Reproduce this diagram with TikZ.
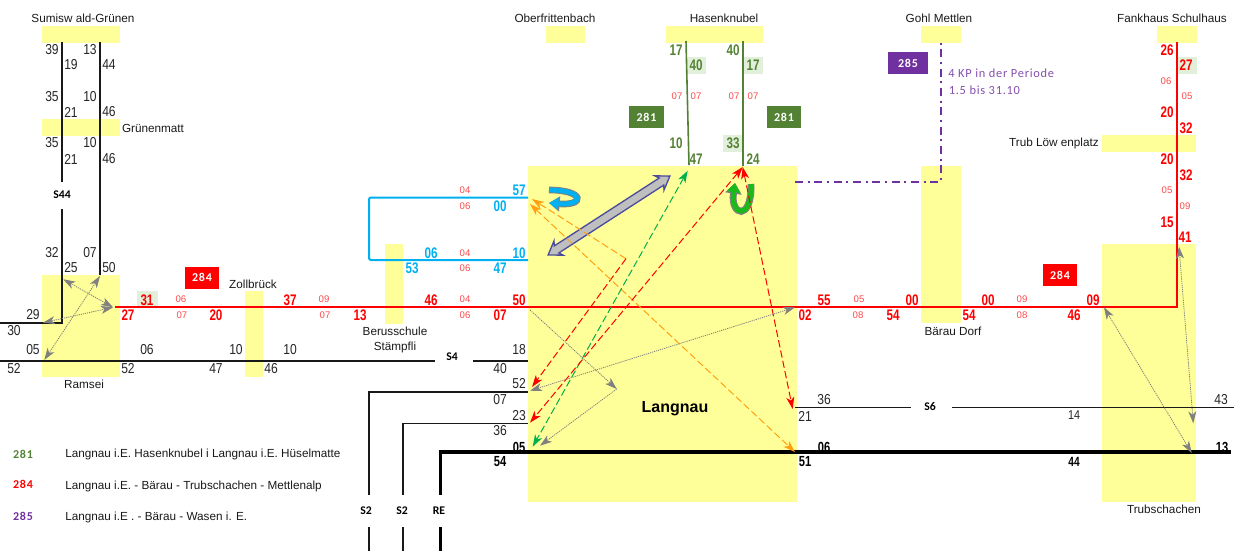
\documentclass[tikz,border=0pt]{standalone}
\usepackage{fontspec}
\usetikzlibrary{arrows.meta}
\setmainfont{Liberation Sans}
\newfontfamily\nar[FakeStretch=.84]{Liberation Sans}
\newfontfamily\narb[FakeStretch=.76]{Liberation Sans}
\newfontfamily\carl{Carlito}
\newfontfamily\carls[LetterSpace=6]{Carlito}
\definecolor{stopy}{HTML}{FFFF99}
\definecolor{hl}{HTML}{E2EFDA}
\definecolor{gr}{HTML}{548235}
\definecolor{redsm}{HTML}{FF4848}
\definecolor{blu}{HTML}{00B0F0}
\definecolor{pur}{HTML}{7030A0}
\definecolor{org}{HTML}{FFA010}
\definecolor{dgr}{HTML}{00B050}
\definecolor{gy}{HTML}{808080}
\tikzset{
 stopbox/.style={fill=stopy},
 hlbox/.style={fill=hl},
 txt/.style={inner sep=0pt,font=\fontsize{8.8}{10}\selectfont,text=black!90},
 blk/.style={inner sep=0pt,font=\nar\fontsize{10.8}{12}\selectfont,text=black!85},
 blks/.style={inner sep=0pt,font=\nar\fontsize{9.6}{12}\selectfont,text=black!85},
 blb/.style={inner sep=0pt,font=\narb\bfseries\fontsize{11}{12}\selectfont,text=black},
 blbs/.style={inner sep=0pt,font=\narb\bfseries\fontsize{10}{12}\selectfont,text=black},
 rb/.style={inner sep=0pt,font=\narb\bfseries\fontsize{11.5}{12}\selectfont,text=red},
 bb/.style={inner sep=0pt,font=\narb\bfseries\fontsize{11.5}{12}\selectfont,text=blu},
 gb/.style={inner sep=0pt,font=\narb\bfseries\fontsize{11.5}{12}\selectfont,text=gr},
 sm/.style={inner sep=0pt,font=\fontsize{7.2}{8}\selectfont,text=redsm},
 ln/.style={inner sep=0pt,font=\carl\bfseries\fontsize{8.8}{9}\selectfont,text=black},
 tag/.style={inner sep=0pt,minimum height=16.5pt,font=\carls\bfseries\fontsize{9}{10}\selectfont,text=white},
 leg/.style={inner sep=0pt,anchor=west,font=\fontsize{8.8}{10}\selectfont,text=black!90},
 legn/.style={inner sep=0pt,font=\carls\bfseries\fontsize{9}{10}\selectfont},
 pt/.style={inner sep=0pt,anchor=west,font=\carls\fontsize{9.3}{10}\selectfont,text=pur!85},
 blackln/.style={draw=black!90,line width=1.2pt},
 thick2/.style={draw=black,line width=2.6pt},
 redln/.style={draw=red,line width=1.5pt},
 bluln/.style={draw=blu,line width=1.5pt,rounded corners=1.5pt},
 grln/.style={draw=gr,line width=1.2pt},
 purln/.style={draw=pur,line width=1.4pt,dash pattern=on 6pt off 3.5pt on 1.5pt off 3.5pt},
 tipd/.style={{Stealth[length=9pt,width=6pt,inset=2.5pt]}-{Stealth[length=9pt,width=6pt,inset=2.5pt]}},
 tipe/.style={-{Stealth[length=9pt,width=6pt,inset=2.5pt]}},
 dsh/.style={line width=.75pt,dash pattern=on 5.5pt off 2.4pt},
 dot/.style={line width=.6pt,draw=gy,dash pattern=on .9pt off .7pt},
}
\begin{document}
\begin{tikzpicture}[x=.75pt,y=-.75pt]
\useasboundingbox (0,0) rectangle (1243,551);
% stops
\fill[stopbox] (42,26) rectangle (120,43);
\fill[stopbox] (42,119) rectangle (120,136);
\fill[stopbox] (42,275) rectangle (120,377);
\fill[stopbox] (245,291) rectangle (263,377);
\fill[stopbox] (385,244) rectangle (403,324);
\fill[stopbox] (528,166) rectangle (797,502);
\fill[stopbox] (546,26) rectangle (585,43);
\fill[stopbox] (666,26) rectangle (763,43);
\fill[stopbox] (921,26) rectangle (961,43);
\fill[stopbox] (921,166) rectangle (961,323);
\fill[stopbox] (1157,26) rectangle (1197,43);
\fill[stopbox] (1102,135) rectangle (1196,152);
\fill[stopbox] (1102,244) rectangle (1196,502);
\fill[hlbox] (137,291) rectangle (158,307);
\fill[hlbox] (686,57) rectangle (706,74);
\fill[hlbox] (744,57) rectangle (763,74);
\fill[hlbox] (723,135) rectangle (743,152);
\fill[hlbox] (1178,57) rectangle (1197,74);
% labels that lines interrupt
\node[ln] (s44) at (62,195) {S44};
\node[ln] (s4) at (452,357) {S4};
\node[ln] (s6) at (930,407) {S6};
\node[ln] (s2a) at (366,511) {S2};
\node[ln] (s2b) at (402,511) {S2};
\node[ln] (re) at (439,511) {RE};
% coordinates
\coordinate (a1) at (62,42); \coordinate (a2) at (62,182);
\coordinate (a3) at (62,209); \coordinate (a4) at (62,323); \coordinate (a5) at (0,323);
\coordinate (b1) at (100,42); \coordinate (b2) at (100,275);
\coordinate (c1) at (0,361); \coordinate (c2) at (435,361); \coordinate (c3) at (473,361); \coordinate (c4) at (528,361);
\coordinate (d1) at (528,392); \coordinate (d2) at (369,392); \coordinate (d3) at (369,495); \coordinate (d4) at (369,527); \coordinate (d5) at (369,551);
\coordinate (e1) at (528,423.5); \coordinate (e2) at (402.7,423.5); \coordinate (e3) at (402.7,495); \coordinate (e4) at (402.7,527); \coordinate (e5) at (402.7,551);
\coordinate (f1) at (1231,452); \coordinate (f2) at (440.7,452); \coordinate (f3) at (440.7,495); \coordinate (f4) at (440.7,527); \coordinate (f5) at (440.7,551);
\coordinate (g1) at (795,407.5); \coordinate (g2) at (911,407.5); \coordinate (g3) at (952,407.5); \coordinate (g4) at (1234,407.5);
\coordinate (h1) at (115,307); \coordinate (h2) at (1177,307); \coordinate (h3) at (1177,42);
\coordinate (i1) at (528,197.5); \coordinate (i2) at (369,197.5); \coordinate (i3) at (369,260); \coordinate (i4) at (528,260);
\coordinate (j1) at (795,182); \coordinate (j2) at (941,182); \coordinate (j3) at (941,43);
\coordinate (k1) at (686,41); \coordinate (k2) at (689,165); \coordinate (k3) at (743,41); \coordinate (k4) at (743,166);
% lines
\draw[blackln] (a1) -- (a2);
\draw[blackln] (a3) -- (a4) -- (a5);
\draw[blackln] (b1) -- (b2);
\draw[blackln] (c1) -- (c2);
\draw[blackln] (c3) -- (c4);
\draw[blackln] (d1) -- (d2) -- (d3);
\draw[blackln] (d4) -- (d5);
\draw[blackln] (e1) -- (e2) -- (e3);
\draw[blackln] (e4) -- (e5);
\draw[thick2] (f1) -- (f2) -- (f3);
\draw[thick2] (f4) -- (f5);
\draw[blackln] (g1) -- (g2);
\draw[blackln] (g3) -- (g4);
\draw[redln] (h1) -- (h2) -- (h3);
\draw[bluln] (i1) -- (i2) -- (i3) -- (i4);
\draw[purln] (j1) -- (j2) -- (j3);
\draw[grln] (k1) -- (k2);
\draw[grln] (k3) -- (k4);
% block arrows
\begin{scope}[shift={(609,215.5)},rotate=32.9]
\draw[draw=blue!45!black!70!white,fill=black!25,line width=1pt,line join=miter]
 (72.5,0) -- (60,8.5) -- (62.5,4.2) -- (-62.5,4.2) -- (-60,8.5) -- (-72.5,0) -- (-60,-8.5) -- (-62.5,-4.2) -- (62.5,-4.2) -- (60,-8.5) -- cycle;
\end{scope}
\coordinate (ua) at (549,190); \coordinate (ub) at (549,203);
\draw[draw=gy,line width=5pt,-{Triangle[length=8pt,width=11pt]}] (ua) .. controls (585,190) and (585,206) .. (ub);
\draw[draw=blu,line width=3.6pt,-{Triangle[length=7pt,width=9pt]}] (ua) .. controls (585,190) and (585,206) .. (ub);
\coordinate (va) at (751,184); \coordinate (vb) at (735,183);
\draw[draw=gy,line width=5.2pt,-{Triangle[length=8pt,width=12pt]}] (va) .. controls (752,222) and (730,216) .. (vb);
\draw[draw=green!70!black!90,line width=3.6pt,-{Triangle[length=7pt,width=10pt]}] (va) .. controls (752,222) and (730,216) .. (vb);
% transfer arrows
\coordinate (m1) at (626,258.7); \coordinate (m2) at (532,199); \coordinate (m3) at (532,387);
\coordinate (m4) at (530,204); \coordinate (m5) at (795,452);
\coordinate (m6) at (687.7,170.7); \coordinate (m7) at (532.7,446.7);
\coordinate (m8) at (742.7,167); \coordinate (m9) at (530,422.7); \coordinate (m10) at (792.7,409);
\coordinate (m11) at (530,310); \coordinate (m12) at (616.7,389); \coordinate (m13) at (540,445.7);
\coordinate (m14) at (530,390.7); \coordinate (m15) at (795,307.3);
\draw[dsh,draw=org,tipe] (m1) -- (m2);
\draw[dsh,draw=red,tipe] (m1) -- (m3);
\draw[dsh,draw=org,tipd] (m4) -- (m5);
\draw[dsh,draw=dgr,tipd] (m6) -- (m7);
\draw[dsh,draw=red,tipd] (m8) -- (m9);
\draw[dsh,draw=red,tipd] (m8) -- (m10);
\draw[dot,tipe] (m11) -- (m12);
\draw[dot,tipe] (m12) -- (m13);
\draw[dot,tipd] (m14) -- (m15);
\coordinate (n1) at (63.3,279.3); \coordinate (n2) at (113,307.3); \coordinate (n3) at (43,322.7);
\coordinate (n4) at (100,276); \coordinate (n5) at (44.3,360);
\draw[dot,tipd] (n1) -- (n2);
\draw[dot,tipd] (n2) -- (n3);
\draw[dot,tipd] (n4) -- (n5);
\coordinate (o1) at (1104,307.3); \coordinate (o2) at (1191.7,453); \coordinate (o3) at (1179,246.7); \coordinate (o4) at (1193.3,423.3);
\draw[dot,tipd] (o1) -- (o2);
\draw[dot,tipd] (o3) -- (o4);
% station names
\node[txt] (st1) at (83,18) {Sumisw ald-Grünen};
\node[txt] (st2) at (153,128) {Grünenmatt};
\node[txt] (st3) at (84,384) {Ramsei};
\node[txt] (st4) at (253,284) {Zollbrück};
\node[txt] (st5) at (395,331) {Berusschule};
\node[txt] (st5b) at (395,347) {Stämpfli};
\node[txt] (st6) at (555,18) {Oberfrittenbach};
\node[txt] (st7) at (724,18) {Hasenknubel};
\node[txt] (st8) at (939,18) {Gohl Mettlen};
\node[txt] (st9) at (1172,18) {Fankhaus Schulhaus};
\node[txt,anchor=east] (st10) at (1099,143) {Trub Löw enplatz};
\node[txt] (st11) at (953,331) {Bärau Dorf};
\node[txt] (st12) at (1164,509) {Trubschachen};
\node[inner sep=0pt,font=\bfseries\fontsize{12}{14}\selectfont] (lang) at (675,409) {Langnau};
% tags
\node[tag,fill=red,minimum width=25.5pt] (t284a) at (202,277.5) {284};
\node[tag,fill=red,minimum width=25.5pt] (t284b) at (1060,275) {284};
\node[tag,fill=gr,minimum width=26pt] (t281a) at (646.5,117) {281};
\node[tag,fill=gr,minimum width=25.5pt] (t281b) at (784,117) {281};
\node[tag,fill=pur,minimum width=30pt] (t285) at (908,63) {285};
\node[pt] (pa) at (948,73) {4 KP in der Periode};
\node[pt] (pb) at (948.5,90) {1.5 bis 31.10};
% S44 column
\node[blk] (q1) at (52,50) {39};
\node[blk] (q2) at (71,65) {19};
\node[blk] (q3) at (90,50) {13};
\node[blk] (q4) at (109,65) {44};
\node[blk] (q5) at (52,97) {35};
\node[blk] (q6) at (71,112) {21};
\node[blk] (q7) at (90,97) {10};
\node[blk] (q8) at (109,112) {46};
\node[blk] (q9) at (52,143) {35};
\node[blk] (q10) at (71,159) {21};
\node[blk] (q11) at (90,143) {10};
\node[blk] (q12) at (109,159) {46};
\node[blk] (q13) at (52,253) {32};
\node[blk] (q14) at (71,268) {25};
\node[blk] (q15) at (90,253) {07};
\node[blk] (q16) at (109,268) {50};
% S4
\node[blk] (w1) at (33,315) {29};
\node[blk] (w2) at (14,331) {30};
\node[blk] (w3) at (33,350) {05};
\node[blk] (w4) at (14,369) {52};
\node[blk] (w5) at (128,369) {52};
\node[blk] (w6) at (147,350) {06};
\node[blk] (w7) at (216,369) {47};
\node[blk] (w8) at (236,350) {10};
\node[blk] (w9) at (271,369) {46};
\node[blk] (w10) at (290,350) {10};
\node[blk] (w11) at (519,350) {18};
\node[blk] (w12) at (500,369) {40};
\node[blk] (w13) at (519,384) {52};
\node[blk] (w14) at (500,400) {07};
\node[blk] (w15) at (519,416) {23};
\node[blk] (w16) at (500,431) {36};
\node[blb] (w17) at (519,447) {05};
\node[blb] (w18) at (500,462) {54};
\node[blk] (w19) at (824,400) {36};
\node[blk] (w20) at (805,416) {21};
\node[blb] (w21) at (824,447) {06};
\node[blb] (w22) at (805,462) {51};
\node[blk] (w23) at (1221,400) {43};
\node[blks] (w24) at (1074,415) {14};
\node[blb] (w25) at (1222,447) {13};
\node[blbs] (w26) at (1074,462) {44};
% red main line
\node[rb] (r1) at (147,300) {31};
\node[rb] (r2) at (128,315) {27};
\node[rb] (r3) at (216,315) {20};
\node[rb] (r4) at (290,300) {37};
\node[rb] (r5) at (360,315) {13};
\node[rb] (r6) at (431,300) {46};
\node[rb] (r7) at (519,300) {50};
\node[rb] (r8) at (500,315) {07};
\node[rb] (r9) at (824,300) {55};
\node[rb] (r10) at (912,300) {00};
\node[rb] (r11) at (805,315) {02};
\node[rb] (r12) at (893,315) {54};
\node[rb] (r13) at (988,300) {00};
\node[rb] (r14) at (969,315) {54};
\node[rb] (r15) at (1074,315) {46};
\node[rb] (r16) at (1093,300) {09};
\node[rb] (r17) at (1167,50) {26};
\node[rb] (r18) at (1186,65) {27};
\node[rb] (r19) at (1167,112) {20};
\node[rb] (r20) at (1186,128) {32};
\node[rb] (r21) at (1167,159) {20};
\node[rb] (r22) at (1186,175) {32};
\node[rb] (r23) at (1167,222) {15};
\node[rb] (r24) at (1185,237) {41};
% small red
\node[sm] (x1) at (181,299) {06};
\node[sm] (x2) at (182,315) {07};
\node[sm] (x3) at (324,299) {09};
\node[sm] (x4) at (325,315) {07};
\node[sm] (x5) at (465,299) {04};
\node[sm] (x6) at (465,315) {06};
\node[sm] (x7) at (465,190) {04};
\node[sm] (x8) at (465,206) {06};
\node[sm] (x9) at (465,253) {04};
\node[sm] (x10) at (465,268) {06};
\node[sm] (x11) at (859,299) {05};
\node[sm] (x12) at (858,315) {08};
\node[sm] (x13) at (1022,299) {09};
\node[sm] (x14) at (1022,315) {08};
\node[sm] (x15) at (677,96) {07};
\node[sm] (x16) at (696,96) {07};
\node[sm] (x17) at (734,96) {07};
\node[sm] (x18) at (753,96) {07};
\node[sm] (x19) at (1166,81) {06};
\node[sm] (x20) at (1187,96) {05};
\node[sm] (x21) at (1167,190) {05};
\node[sm] (x22) at (1185,206) {09};
% blue
\node[bb] (y1) at (519,190) {57};
\node[bb] (y2) at (500,206) {00};
\node[bb] (y3) at (431,253) {06};
\node[bb] (y4) at (412,268) {53};
\node[bb] (y5) at (519,253) {10};
\node[bb] (y6) at (500,268) {47};
% green
\node[gb] (z1) at (676,50) {17};
\node[gb] (z2) at (696,65) {40};
\node[gb] (z3) at (733,50) {40};
\node[gb] (z4) at (753,65) {17};
\node[gb] (z5) at (676,143) {10};
\node[gb] (z6) at (696,159) {47};
\node[gb] (z7) at (733,143) {33};
\node[gb] (z8) at (753,159) {24};
% legend
\node[legn,text=gr] (l1) at (23,454) {281};
\node[legn,text=red] (l2) at (23,484) {284};
\node[legn,text=pur] (l3) at (23,516) {285};
\node[leg] (l1t) at (65,454) {Langnau i.E. Hasenknubel i Langnau i.E. Hüselmatte};
\node[leg] (l2t) at (65,486) {Langnau i.E. - Bärau - Trubschachen - Mettlenalp};
\node[leg] (l3t) at (65,517) {Langnau i.E . - Bärau - Wasen i. E.};
\end{tikzpicture}
\end{document}
